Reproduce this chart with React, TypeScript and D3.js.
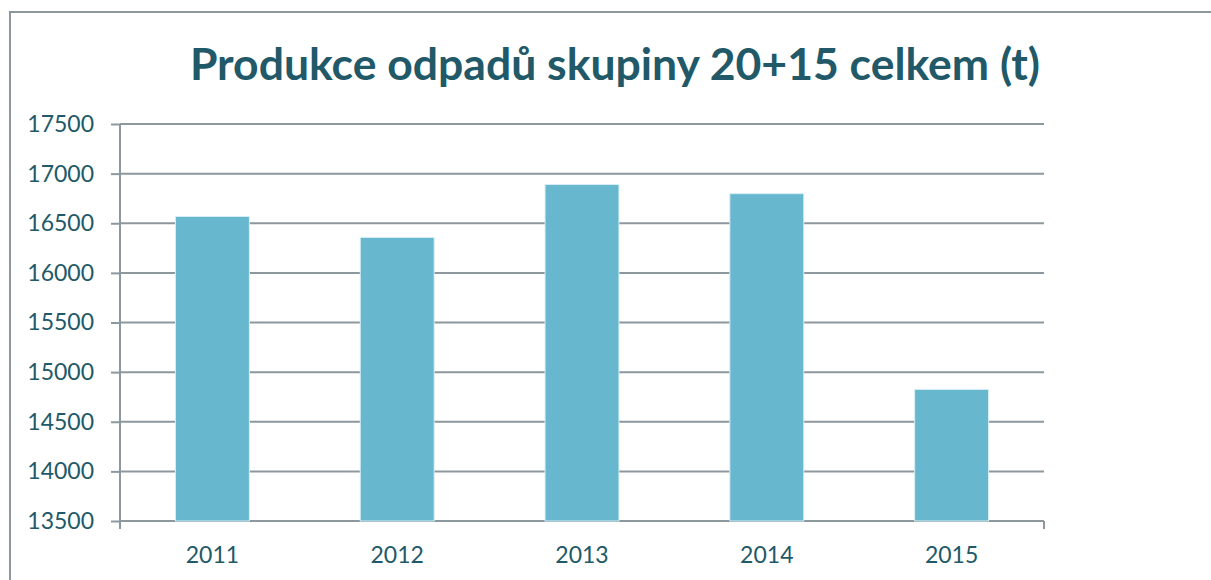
import { useEffect, useRef } from 'react'
import * as d3 from 'd3'

const years = ['2011', '2012', '2013', '2014', '2015']
const tons = [16568, 16357, 16890, 16798, 14826]
const yTicks = [13500, 14000, 14500, 15000, 15500, 16000, 16500, 17000, 17500]
const title = 'Produkce odpadů skupiny 20+15 celkem (t)'

const textColor = '#215968'
const gridColor = '#8c979e'
const barColor = '#67b7cf'

const App = () => {
  const svgRef = useRef<SVGSVGElement>(null)

  useEffect(() => {
    const W = 1211
    const H = 580
    const margin = { top: 124, right: 167, bottom: 59, left: 120 }
    const width = W - margin.left - margin.right
    const height = H - margin.top - margin.bottom

    const root = d3.select(svgRef.current)
    root.selectAll('*').remove()
    root.attr('width', W).attr('height', H)

    // outer chart frame (only left and top edges are visible in the crop)
    root.append('path')
      .attr('d', `M10,${H} L10,12 L${W},12`)
      .attr('fill', 'none')
      .attr('stroke', gridColor)
      .attr('stroke-width', 2)

    root.append('text')
      .attr('x', 615)
      .attr('y', 80)
      .attr('text-anchor', 'middle')
      .attr('fill', textColor)
      .style('font-family', 'Lato, "Open Sans", sans-serif')
      .style('font-weight', 700)
      .style('font-size', '44.5px')
      .text(title)

    const svg = root.append('g')
      .attr('transform', `translate(${margin.left},${margin.top})`)

    const x = d3.scaleBand()
      .domain(years)
      .range([0, width])
      .paddingInner(0.6)
      .paddingOuter(0.3)

    const y = d3.scaleLinear()
      .domain([13500, 17500])
      .range([height, 0])

    // gridlines + y ticks
    svg.append('g')
      .call(d3.axisLeft(y).tickValues(yTicks).tickSize(9).tickFormat(d3.format('d')))
      .call(g => g.select('.domain').attr('stroke', gridColor).attr('stroke-width', 2).attr('d', `M0,0V${height + 8}`))
      .call(g => g.selectAll('.tick line').attr('stroke', gridColor).attr('stroke-width', 2))
      .call(g => g.selectAll('.tick text')
        .attr('x', -26)
        .attr('fill', textColor)
        .style('font-family', 'Lato, "Open Sans", sans-serif')
        .style('font-size', '23px'))

    svg.append('g')
      .selectAll('line')
      .data(yTicks)
      .enter()
      .append('line')
      .attr('x1', 0)
      .attr('x2', width)
      .attr('y1', d => y(d))
      .attr('y2', d => y(d))
      .attr('stroke', gridColor)
      .attr('stroke-width', 2)

    // right end tick on the category axis
    svg.append('line')
      .attr('x1', width)
      .attr('x2', width)
      .attr('y1', height)
      .attr('y2', height + 8)
      .attr('stroke', gridColor)
      .attr('stroke-width', 2)

    svg.selectAll('rect.bar')
      .data(tons)
      .enter()
      .append('rect')
      .attr('class', 'bar')
      .attr('x', (d, i) => x(years[i])!)
      .attr('y', d => y(d))
      .attr('width', x.bandwidth())
      .attr('height', d => height - y(d))
      .attr('fill', barColor)
      .attr('stroke', '#d6eef5')
      .attr('stroke-width', 1)

    svg.selectAll('text.year')
      .data(years)
      .enter()
      .append('text')
      .attr('class', 'year')
      .attr('x', d => x(d)! + x.bandwidth() / 2)
      .attr('y', height + 42)
      .attr('text-anchor', 'middle')
      .attr('fill', textColor)
      .style('font-family', 'Lato, "Open Sans", sans-serif')
      .style('font-size', '23px')
      .text(d => d)
  }, [])

  return <svg ref={svgRef} style={{ position: 'absolute', left: 0, top: 0 }}></svg>
}

export default App
